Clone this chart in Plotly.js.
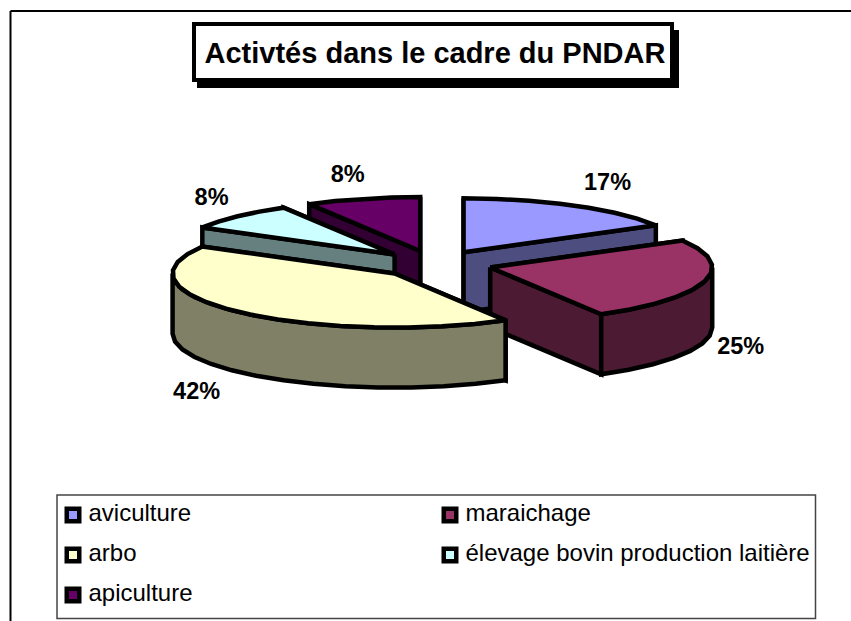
<!DOCTYPE html>
<html>
<head>
<meta charset="utf-8">
<script src="https://cdn.plot.ly/plotly-3.0.1.min.js"></script>
<style>html,body{margin:0;padding:0;background:#fff}#c{width:851px;height:621px}</style>
</head>
<body>
<div id="c"></div>
<script>
// Data
var categories = ['aviculture', 'maraichage', 'arbo', 'élevage bovin production laitière', 'apiculture'];
var values = [2, 3, 5, 1, 1];
var topColors = ['#9999FF', '#993366', '#FFFFCC', '#CCFFFF', '#660066'];
var sideColors = ['#4D4D80', '#4D1A33', '#808066', '#668080', '#330033'];
var chartTitle = 'Activtés dans le cadre du PNDAR';

// Pie model (units of the hidden pixel-scaled axes)
var cx = 435, cy = 264, rx = 222, ry = 54, depth = 60, explode = 0.25;
var labelNudgeX = [33, 36, -41, -26, -15];
var labelNudgeY = [-21, 67, 81, -17, -23];
var paintOrder = [4, 3, 0, 1, 2];
var legendCols = [73, 450];
var legendRows = [515, 555, 595];
var FONT = '"Liberation Sans", Arial, sans-serif';

var total = values.reduce(function (a, b) { return a + b; }, 0);
var starts = [], acc = 0;
values.forEach(function (v) { starts.push(acc / total * 2 * Math.PI); acc += v; });

function sliceGeom(i) {
  var t1 = starts[i], t2 = t1 + values[i] / total * 2 * Math.PI, m = (t1 + t2) / 2;
  return {
    t1: t1, t2: t2, m: m,
    ax: cx + explode * rx * Math.sin(m) * 1.03,
    ay: cy - explode * ry * Math.cos(m)
  };
}
function rim(g, t) { return [g.ax + rx * Math.sin(t), g.ay - ry * Math.cos(t)]; }
function poly(pts, fill) {
  return {
    type: 'scatter', mode: 'lines', fill: 'toself', fillcolor: fill,
    x: pts.map(function (p) { return p[0]; }),
    y: pts.map(function (p) { return p[1]; }),
    line: { color: '#000', width: 4.5, shape: 'linear' },
    hoverinfo: 'skip', showlegend: false
  };
}
function arc(g, a, b) {
  var n = Math.max(1, Math.ceil((b - a) / (9 * Math.PI / 180))), out = [];
  for (var k = 0; k <= n; k++) out.push(rim(g, a + (b - a) * k / n));
  return out;
}
function face(g, t) {
  var r = rim(g, t);
  return [[g.ax, g.ay], r, [r[0], r[1] + depth], [g.ax, g.ay + depth], [g.ax, g.ay]];
}

var traces = [];
paintOrder.forEach(function (i) {
  var g = sliceGeom(i), side = sideColors[i];
  var startVisible = Math.sin(g.t1) < 0, endVisible = Math.sin(g.t2) > 0;
  if (!startVisible) traces.push(poly(face(g, g.t1), side));
  if (!endVisible) traces.push(poly(face(g, g.t2), side));
  if (startVisible) traces.push(poly(face(g, g.t1), side));
  if (endVisible) traces.push(poly(face(g, g.t2), side));
  var w1 = Math.max(g.t1, Math.PI / 2), w2 = Math.min(g.t2, 3 * Math.PI / 2);
  if (w2 > w1) {
    var top = arc(g, w1, w2);
    var bottom = top.slice().reverse().map(function (p) { return [p[0], p[1] + depth]; });
    var wall = top.concat(bottom); wall.push(top[0]);
    traces.push(poly(wall, side));
  }
  var topFace = [[g.ax, g.ay]].concat(arc(g, g.t1, g.t2)); topFace.push([g.ax, g.ay]);
  traces.push(poly(topFace, topColors[i]));
});

// Percent labels
var lx = [], ly = [], lt = [];
values.forEach(function (v, i) {
  var g = sliceGeom(i), r = rim(g, g.m);
  lx.push(r[0] + labelNudgeX[i]); ly.push(r[1] + labelNudgeY[i]);
  lt.push(Math.round(v / total * 100) + '%');
});
traces.push({
  type: 'scatter', mode: 'text', x: lx, y: ly, text: lt, textposition: 'middle center',
  textfont: { family: FONT, size: 23.5, color: '#000', weight: 700 }, hoverinfo: 'skip', showlegend: false
});

// Legend
categories.forEach(function (name, i) {
  traces.push({
    type: 'scatter', mode: 'markers+text', name: name,
    x: [legendCols[i % 2]], y: [legendRows[Math.floor(i / 2)]],
    text: [' ' + name], textposition: 'middle right',
    textfont: { family: FONT, size: 24, color: '#000' },
    marker: { symbol: 'square', size: 12.5, color: topColors[i], line: { color: '#000', width: 4.5 } },
    hoverinfo: 'skip', showlegend: false, cliponaxis: false
  });
});

function rect(x0, y0, x1, y1, fill, line, w) {
  return { type: 'rect', xref: 'x', yref: 'y', x0: x0, y0: y0, x1: x1, y1: y1, fillcolor: fill,
    line: { color: line, width: w }, layer: 'below' };
}
function seg(x0, y0, x1, y1, w) {
  return { type: 'line', xref: 'x', yref: 'y', x0: x0, y0: y0, x1: x1, y1: y1,
    line: { color: '#000', width: w }, layer: 'below' };
}

var layout = {
  width: 851, height: 621, autosize: false,
  margin: { l: 0, r: 0, t: 0, b: 0, pad: 0 },
  paper_bgcolor: '#fff', plot_bgcolor: '#fff', showlegend: false,
  xaxis: { range: [0, 851], visible: false, fixedrange: true },
  yaxis: { range: [621, 0], visible: false, fixedrange: true },
  title: { text: chartTitle, x: 435 / 851, xanchor: 'center', xref: 'paper',
    y: 1 - 53 / 621, yanchor: 'middle', yref: 'paper', font: { family: FONT, size: 29, color: '#000', weight: 700 } },
  shapes: [
    seg(10.5, 11, 851, 11, 2),
    seg(10.5, 11, 10.5, 621, 2),
    rect(197, 30, 679, 88, '#000', '#000', 0),
    rect(194, 24, 672, 80, '#fff', '#000', 4),
    rect(57, 495, 815.5, 618.5, '#fff', '#444', 1.5)
  ]
};
Plotly.newPlot('c', traces, layout, { displayModeBar: false, staticPlot: true });
</script>
</body>
</html>
